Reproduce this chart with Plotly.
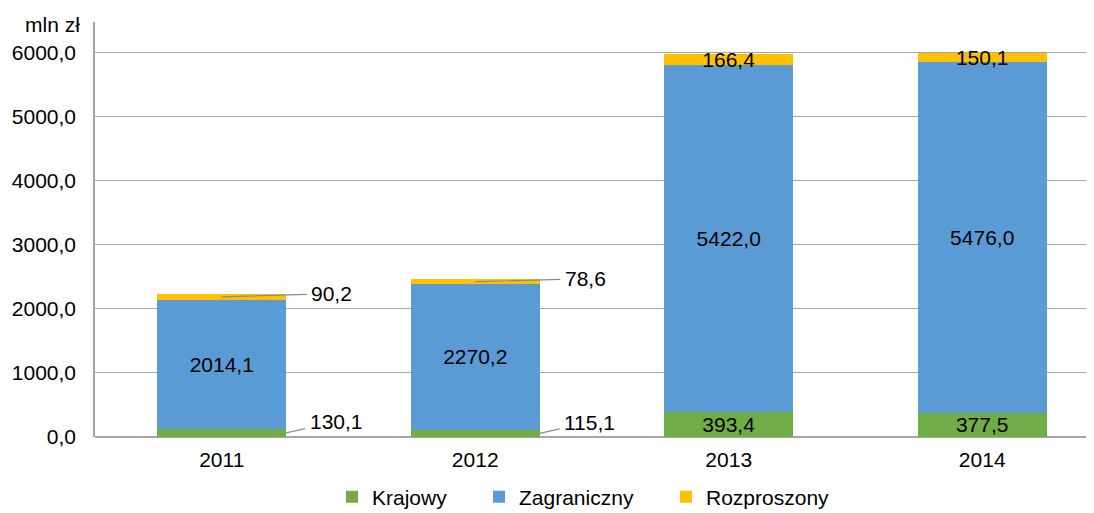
import plotly.graph_objects as go

years = ["2011", "2012", "2013", "2014"]
krajowy = [130.1, 115.1, 393.4, 377.5]
zagraniczny = [2014.1, 2270.2, 5422.0, 5476.0]
rozproszony = [90.2, 78.6, 166.4, 150.1]
y_ticks = [0, 1000, 2000, 3000, 4000, 5000, 6000]

# which labels sit inside the bar (True) or outside with a leader line (False)
inside_k = [False, False, True, True]
inside_r = [False, False, True, True]

def fmt(v):
    return f"{v:.1f}".replace(".", ",")

FONT = "Liberation Sans, Arial, sans-serif"
FS = 21
BW = 0.508

fig = go.Figure()
fig.add_bar(
    x=years, y=krajowy, name="Krajowy", width=BW, legendwidth=102,
    marker=dict(color="#70AD47", line=dict(width=0)),
    text=[fmt(v) if s else "" for v, s in zip(krajowy, inside_k)],
)
fig.add_bar(
    x=years, y=zagraniczny, name="Zagraniczny", width=BW, legendwidth=142,
    marker=dict(color="#5B9BD5", line=dict(width=0)),
    text=[fmt(v) for v in zagraniczny],
)
fig.add_bar(
    x=years, y=rozproszony, name="Rozproszony", width=BW,
    marker=dict(color="#FFC000", line=dict(width=0)),
    text=[fmt(v) if s else "" for v, s in zip(rozproszony, inside_r)],
)
fig.update_traces(
    textposition="inside", insidetextanchor="middle", textangle=0,
    constraintext="none", textfont=dict(family=FONT, size=FS, color="black"),
    hoverinfo="skip",
)

# outside labels with leader lines
for i in range(4):
    if not inside_r[i]:
        ytop = krajowy[i] + zagraniczny[i] + rozproszony[i] / 2
        fig.add_annotation(
            x=i, y=ytop, xref="x", yref="y", text=fmt(rozproszony[i]),
            showarrow=True, arrowhead=0, arrowwidth=1.2, arrowcolor="#8C8C8C",
            ax=110, ay=-3, standoff=0, startstandoff=3,
            font=dict(family=FONT, size=FS, color="black"),
        )
    if not inside_k[i]:
        fig.add_annotation(
            x=i + BW / 2, y=krajowy[i] / 2, xref="x", yref="y", text=fmt(krajowy[i]),
            showarrow=True, arrowhead=0, arrowwidth=1.2, arrowcolor="#8C8C8C",
            ax=50, ay=-11, standoff=0, startstandoff=3,
            font=dict(family=FONT, size=FS, color="black"),
        )

fig.add_annotation(
    x=-0.013, y=0.9928, xref="paper", yref="paper", xanchor="right", yanchor="middle",
    text="mln zł", showarrow=False, font=dict(family=FONT, size=FS, color="black"),
)

# page body has an 8px margin, so the figure is 8px smaller and offsets shifted
fig.update_layout(
    width=1086, height=505,
    margin=dict(l=87, r=0, t=14, b=76, autoexpand=False),
    barmode="stack",
    plot_bgcolor="white", paper_bgcolor="white",
    separators=", ",
    font=dict(family=FONT, size=FS, color="black"),
    showlegend=True,
    legend=dict(
        orientation="h", x=(332 - 95) / 999, xanchor="left", y=-0.1446, yanchor="middle",
        font=dict(family=FONT, size=FS, color="black"),
        itemwidth=30, traceorder="normal",
    ),
    xaxis=dict(
        type="category", range=[-0.5, 3.441],
        showgrid=False, showline=False, ticks="", zeroline=False,
        tickfont=dict(family=FONT, size=FS, color="black"),
        ticklabelstandoff=8,
    ),
    yaxis=dict(
        range=[0, 6480], tickvals=y_ticks, tickformat=".1f",
        showgrid=True, gridcolor="#A6A6A6", gridwidth=1,
        showline=True, linecolor="#A6A6A6", linewidth=1.5,
        zeroline=True, zerolinecolor="#A6A6A6", zerolinewidth=1.5,
        ticks="", ticklabelstandoff=13,
        tickfont=dict(family=FONT, size=FS, color="black"),
    ),
)

fig.write_html("out.html")
